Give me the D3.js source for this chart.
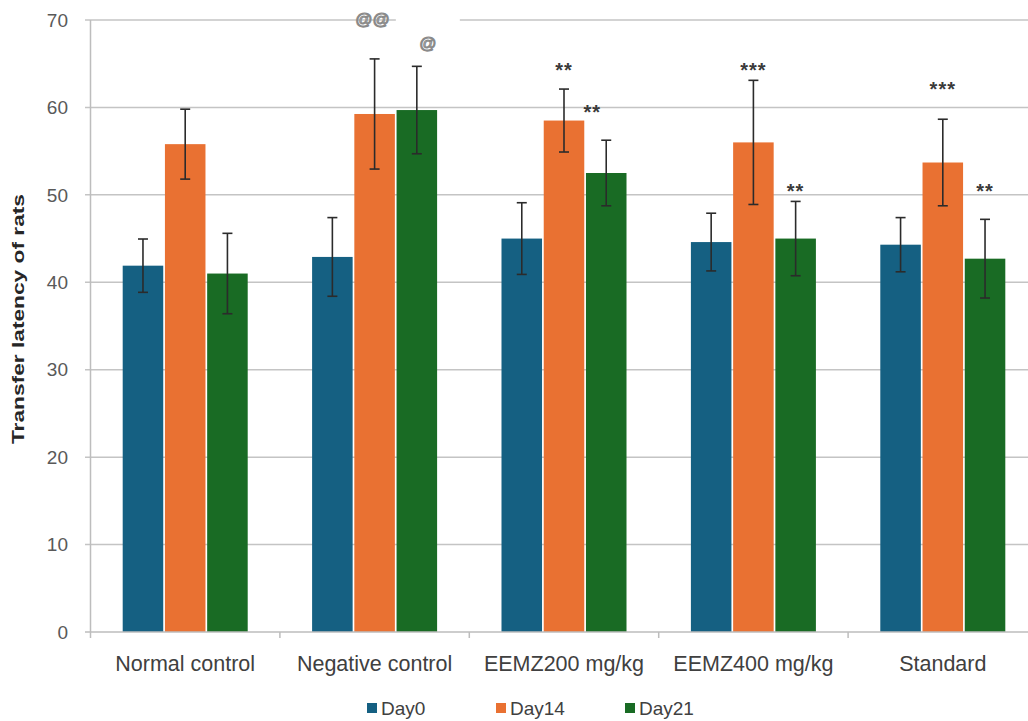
<!DOCTYPE html>
<html>
<head>
<meta charset="utf-8">
<script src="https://cdn.jsdelivr.net/npm/d3@7"></script>
<style>
  body { margin: 0; background: #fff; }
  svg { display: block; font-family: "Liberation Sans", Arial, sans-serif; }
</style>
</head>
<body>
<div id="chart"></div>
<script>
// values
const categories = ["Normal control", "Negative control", "EEMZ200 mg/kg", "EEMZ400 mg/kg", "Standard"];
const seriesNames = ["Day0", "Day14", "Day21"];
const day0 = [41.9, 42.9, 45.0, 44.6, 44.3];
const day0Err = [3.05, 4.5, 4.1, 3.3, 3.1];
const day14 = [55.8, 59.25, 58.5, 56.0, 53.7];
const day14Err = [4.0, 6.3, 3.6, 7.1, 4.95];
const day21 = [41.0, 59.7, 52.5, 45.0, 42.7];
const day21Err = [4.6, 5.0, 3.75, 4.25, 4.5];
const yTicks = [0, 10, 20, 30, 40, 50, 60, 70];
const colors = ["#156082", "#E97132", "#196B24"];

// significance marks: category, series, text, height in data units
const marks = [
    {cat: 1, s: 1, text: "@@", at: 70.1},
    {cat: 1, s: 2, text: "@", at: 67.4},
    {cat: 2, s: 1, text: "**", at: 64.7},
    {cat: 2, s: 2, text: "**", at: 59.9},
    {cat: 3, s: 1, text: "***", at: 64.7},
    {cat: 3, s: 2, text: "**", at: 50.9},
    {cat: 4, s: 1, text: "***", at: 62.6},
    {cat: 4, s: 2, text: "**", at: 50.9}
];

const values = [day0, day14, day21];
const errors = [day0Err, day14Err, day21Err];

const W = 1028, H = 721;
const svg = d3.select("#chart").append("svg")
    .attr("width", W)
    .attr("height", H);

const x0 = d3.scaleBand()
    .domain(categories)
    .range([90.5, 1037.5])
    .paddingInner(0.34)
    .paddingOuter(0.17);

const x1 = d3.scaleBand()
    .domain(seriesNames)
    .range([0, x0.bandwidth()])
    .paddingInner(0.04);

const y = d3.scaleLinear()
    .domain([0, 70])
    .range([632, 20]);

// gridlines
svg.append("g")
    .selectAll("line")
    .data(yTicks.slice(1))
    .join("line")
    .attr("x1", 85)
    .attr("x2", W)
    .attr("y1", d => y(d))
    .attr("y2", d => y(d))
    .attr("stroke", "#c4c4c4")
    .attr("stroke-width", 1.5);

// y axis line
svg.append("line")
    .attr("x1", 90.5).attr("x2", 90.5)
    .attr("y1", y(70)).attr("y2", y(0))
    .attr("stroke", "#bdbdbd")
    .attr("stroke-width", 1.5);

// y tick labels
svg.append("g")
    .selectAll("text")
    .data(yTicks)
    .join("text")
    .attr("x", 68)
    .attr("y", d => y(d))
    .attr("dy", "0.35em")
    .attr("text-anchor", "end")
    .attr("fill", "#595959")
    .style("font-size", "19px")
    .text(d => d);

// bars
const rows = categories.map((c, i) => seriesNames.map((s, j) => ({
    cat: c, s: s, j: j, v: values[j][i], e: errors[j][i]
})));

const groups = svg.append("g")
    .selectAll("g")
    .data(rows)
    .join("g")
    .attr("transform", (d, i) => `translate(${x0(categories[i])},0)`);

groups.selectAll("rect")
    .data(d => d)
    .join("rect")
    .attr("x", d => x1(d.s))
    .attr("y", d => y(d.v))
    .attr("width", x1.bandwidth())
    .attr("height", d => y(0) - y(d.v))
    .attr("fill", d => colors[d.j]);

// error bars
const eb = groups.selectAll("g.err")
    .data(d => d)
    .join("g")
    .attr("class", "err")
    .attr("stroke", "#2b2b2b")
    .attr("stroke-width", 1.6);

eb.append("line")
    .attr("x1", d => x1(d.s) + x1.bandwidth() / 2)
    .attr("x2", d => x1(d.s) + x1.bandwidth() / 2)
    .attr("y1", d => y(d.v + d.e))
    .attr("y2", d => y(d.v - d.e));

eb.selectAll("line.cap")
    .data(d => [{d: d, v: d.v + d.e}, {d: d, v: d.v - d.e}])
    .join("line")
    .attr("class", "cap")
    .attr("x1", c => x1(c.d.s) + x1.bandwidth() / 2 - 5)
    .attr("x2", c => x1(c.d.s) + x1.bandwidth() / 2 + 5)
    .attr("y1", c => y(c.v))
    .attr("y2", c => y(c.v));

// x axis line and ticks
svg.append("line")
    .attr("x1", 85).attr("x2", W)
    .attr("y1", y(0)).attr("y2", y(0))
    .attr("stroke", "#bdbdbd")
    .attr("stroke-width", 1.5);

svg.append("g")
    .selectAll("line")
    .data(d3.range(categories.length + 1))
    .join("line")
    .attr("x1", i => x0.range()[0] + i * x0.step())
    .attr("x2", i => x0.range()[0] + i * x0.step())
    .attr("y1", y(0))
    .attr("y2", y(0) + 6)
    .attr("stroke", "#bdbdbd")
    .attr("stroke-width", 1.5);

// category labels
svg.append("g")
    .selectAll("text")
    .data(categories)
    .join("text")
    .attr("x", d => x0(d) + x0.bandwidth() / 2)
    .attr("y", 671)
    .attr("text-anchor", "middle")
    .attr("fill", "#404040")
    .style("font-size", "21.5px")
    .text(d => d);

// y axis title
svg.append("text")
    .attr("transform", "translate(24,319) rotate(-90)")
    .attr("text-anchor", "middle")
    .attr("fill", "#262626")
    .style("font-size", "17px")
    .style("font-weight", "bold")
    .attr("textLength", 250)
    .attr("lengthAdjust", "spacingAndGlyphs")
    .text("Transfer latency of rats");

// significance marks
const nudge = {"2-2": -14, "1-2": 11, "1-1": -2};
const mg = svg.append("g");
marks.forEach(m => {
    const cx = x0(categories[m.cat]) + x1(seriesNames[m.s]) + x1.bandwidth() / 2 + (nudge[m.cat + "-" + m.s] || 0);
    const cy = y(m.at);
    if (m.text.startsWith("@")) {
        if (m.text === "@") {
            mg.append("rect")
                .attr("x", cx - 32).attr("y", cy - 28)
                .attr("width", 64).attr("height", 42)
                .attr("fill", "#fff");
        }
        mg.append("text")
            .attr("x", cx).attr("y", cy)
            .attr("dy", "0.35em")
            .attr("text-anchor", "middle")
            .attr("fill", "#fff")
            .attr("stroke", "#8a8a8a")
            .attr("stroke-width", 1.1)
            .style("font-size", "17px")
            .text(m.text);
    } else {
        mg.append("text")
            .attr("x", cx).attr("y", cy + 11)
            .attr("text-anchor", "middle")
            .attr("fill", "#3a3a3a")
            .style("font-size", "20px")
            .style("font-weight", "bold")
            .style("letter-spacing", "1px")
            .text(m.text);
    }
});

// legend
const legend = svg.append("g")
    .selectAll("g")
    .data(seriesNames)
    .join("g")
    .attr("transform", (d, i) => `translate(${367 + i * 129},703)`);

legend.append("rect")
    .attr("width", 10)
    .attr("height", 10)
    .attr("fill", (d, i) => colors[i]);

legend.append("text")
    .attr("x", 14)
    .attr("y", 5)
    .attr("dy", "0.36em")
    .attr("fill", "#404040")
    .style("font-size", "19px")
    .text(d => d);
</script>
</body>
</html>
